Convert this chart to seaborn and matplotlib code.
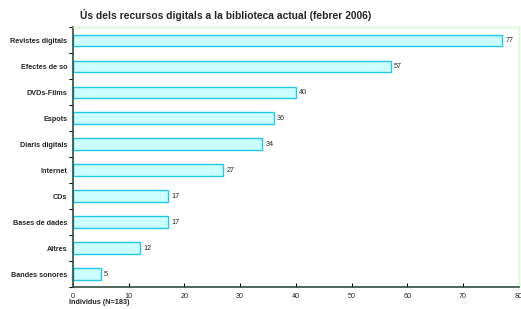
import matplotlib
matplotlib.use("Agg")
import matplotlib.pyplot as plt
import seaborn as sns
import pandas as pd

categories = ["Revistes digitals", "Efectes de so", "DVDs-Films", "Espots",
              "Diaris digitals", "Internet", "CDs", "Bases de dades",
              "Altres", "Bandes sonores"]
values = [77, 57, 40, 36, 34, 27, 17, 17, 12, 5]

df = pd.DataFrame({"recurs": categories, "n": values})

sns.set_style("white")
plt.rcParams["font.family"] = ["Liberation Sans", "DejaVu Sans"]

fig = plt.figure(figsize=(5.21, 3.09), dpi=100)
ax = fig.add_axes([0.140, 0.0712, 0.856, 0.841])

sns.barplot(data=df, x="n", y="recurs", orient="h", width=0.43,
            color="#ccffff", edgecolor="#1ec8f0", linewidth=1.0, ax=ax,
            saturation=1)

for i, v in enumerate(values):
    ax.text(v + 0.6, i, str(v), va="center", ha="left", fontsize=5.2)

ax.set_xlim(0, 80)
ax.set_ylim(len(categories) - 0.5, -0.5)
ax.set_xticks(range(0, 81, 10))
ax.set_xticklabels([str(t) for t in range(0, 81, 10)], fontsize=5.2)
ax.set_yticks(range(len(categories)))
ax.set_yticklabels(categories, fontsize=5.2, fontweight="bold")
ax.set_yticks([i - 0.5 for i in range(len(categories) + 1)], minor=True)
ax.tick_params(axis="y", which="major", left=False, length=0, pad=4)
ax.tick_params(axis="y", which="minor", left=True, length=3, width=0.8,
               direction="out", color="black")
ax.tick_params(axis="x", bottom=True, length=3, width=0.8, direction="in",
               color="black", pad=4.5)

ax.set_xlabel("Individus (N=183)", fontsize=5.2, fontweight="bold", loc="left")
ax.xaxis.set_label_coords(-0.009, -0.048)
ax.set_ylabel("")

for side in ["top", "right"]:
    ax.spines[side].set_color("#ccffcc")
    ax.spines[side].set_linewidth(1.0)
for side in ["left", "bottom"]:
    ax.spines[side].set_color("#2f4f3f")
    ax.spines[side].set_linewidth(1.2)

fig.text(0.154, 0.951, "Ús dels recursos digitals a la biblioteca actual (febrer 2006)",
         fontsize=7.4, fontweight="bold", ha="left", va="center")

fig.savefig("out.png", dpi=100)
